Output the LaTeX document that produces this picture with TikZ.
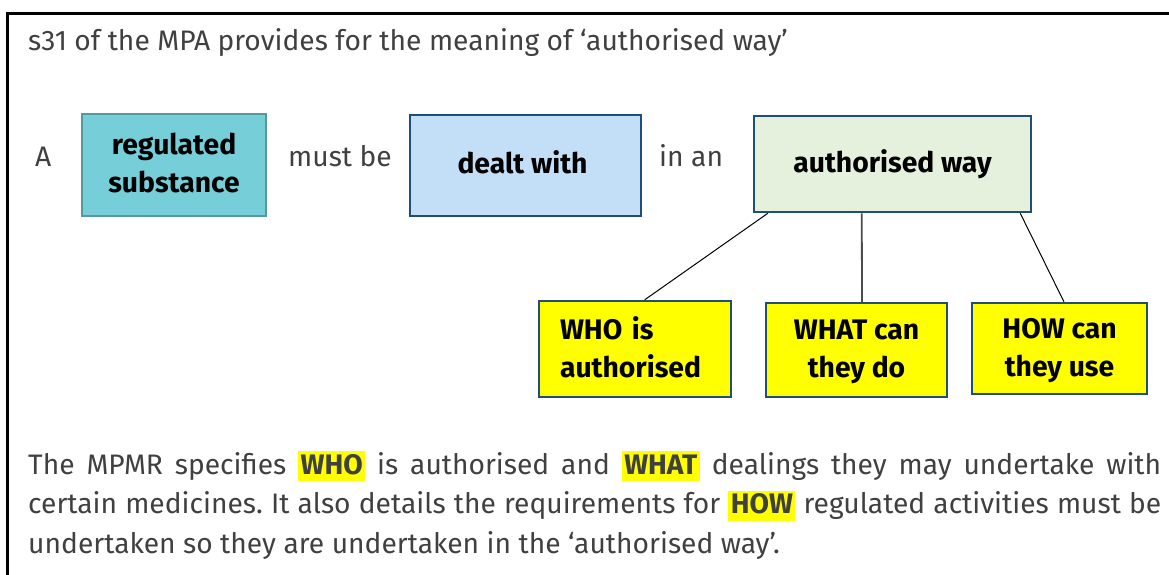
\documentclass[tikz,border=0pt]{standalone}
\usepackage{fontspec}
\setmainfont{Fira Sans}
\usetikzlibrary{calc}
\definecolor{txtgray}{RGB}{64,64,64}
\definecolor{tealfill}{RGB}{118,206,216}
\definecolor{tealdraw}{RGB}{86,152,160}
\definecolor{bluefill}{RGB}{194,223,247}
\definecolor{navy}{RGB}{31,78,121}
\definecolor{greenfill}{RGB}{230,241,221}
\definecolor{hlyellow}{RGB}{255,255,0}
\newcommand\hlword[1]{{\setlength{\fboxsep}{0pt}\colorbox{hlyellow}{\rule[-7pt]{0pt}{30pt}\kern2.5pt\textbf{#1}\kern2.5pt}}}
\newcommand\lowstrut[1]{\rule[-#1]{0pt}{0pt}}
\newcommand\highstrut[1]{\rule{0pt}{#1}}
\tikzset{
  plaintext/.style={inner sep=0pt, text=txtgray, font=\fontsize{28.2}{39.5}\selectfont},
  boxbase/.style={rectangle, inner sep=0pt, line width=2.5pt, text=black, align=center,
    font=\fontsize{28.3}{38}\selectfont\bfseries},
  tealbox/.style={boxbase, fill=tealfill, draw=tealdraw},
  bluebox/.style={boxbase, fill=bluefill, draw=navy},
  greenbox/.style={boxbase, fill=greenfill, draw=navy},
  yellowbox/.style={boxbase, fill=hlyellow, draw=navy},
  thinlink/.style={draw=black, line width=1pt},
  midlink/.style={draw=black!70, line width=1.8pt}
}
\begin{document}
\begin{tikzpicture}[x=1pt,y=-1pt]
\useasboundingbox (0,0) rectangle (1169,574);
\fill[white] (0,0) rectangle (1169,574);
\draw[line width=3pt] (7,576) -- (7,13) -- (1171,13);

\node (title) [plaintext, anchor=base west] at (28,50.5)
  {s31 of the MPA provides for the meaning of ‘authorised way’};

\node (a) [plaintext, anchor=base west] at (35,166) {A};
\node (subst) [tealbox, minimum width=184pt, minimum height=102pt] at (174,165)
  {regulated\\substance\lowstrut{5pt}};
\node (mustbe) [plaintext, anchor=base west] at (288,166) {must be};
\node (dealt) [bluebox, minimum width=231pt, minimum height=101pt, text height=18pt, text depth=2pt] at (525.5,165.5)
  {\kern-6pt dealt with};
\node (inan) [plaintext, anchor=base west] at (659,166) {in an};
\node (auth) [greenbox, minimum width=277pt, minimum height=96pt, text height=20pt, text depth=3pt] at (892.5,164)
  {authorised way};

\node (who) [yellowbox, minimum width=192pt, minimum height=96pt, text width=150pt, align=left] at (635,349)
  {WHO is\\authorised\lowstrut{4pt}};
\node (what) [yellowbox, minimum width=181pt, minimum height=94pt] at (856.5,350)
  {\highstrut{24pt}WHAT can\\they do};
\node (how) [yellowbox, minimum width=175pt, minimum height=91pt] at (1059.5,348.5)
  {\highstrut{25pt}HOW can\\they use};

\draw[thinlink] ($(auth.south west)!0.054!(auth.south east)$) -- ($(who.north west)!0.55!(who.north east)$);
\draw[midlink] ($(auth.south west)!0.39!(auth.south east)$) -- ($(what.north west)!0.53!(what.north east)$);
\draw[thinlink] ($(auth.south west)!0.957!(auth.south east)$) -- ($(how.north west)!0.525!(how.north east)$);

\node (para) [plaintext, anchor=base west] at (28,474)
  {\parbox[t]{1133pt}{\frenchspacing\hyphenpenalty=10000 The MPMR specifies \hlword{WHO} is authorised and \hlword{WHAT} dealings they may undertake with\linebreak certain medicines. It also details the requirements for \hlword{HOW} regulated activities must be\linebreak undertaken so they are undertaken in the ‘authorised way’.}};
\end{tikzpicture}
\end{document}
